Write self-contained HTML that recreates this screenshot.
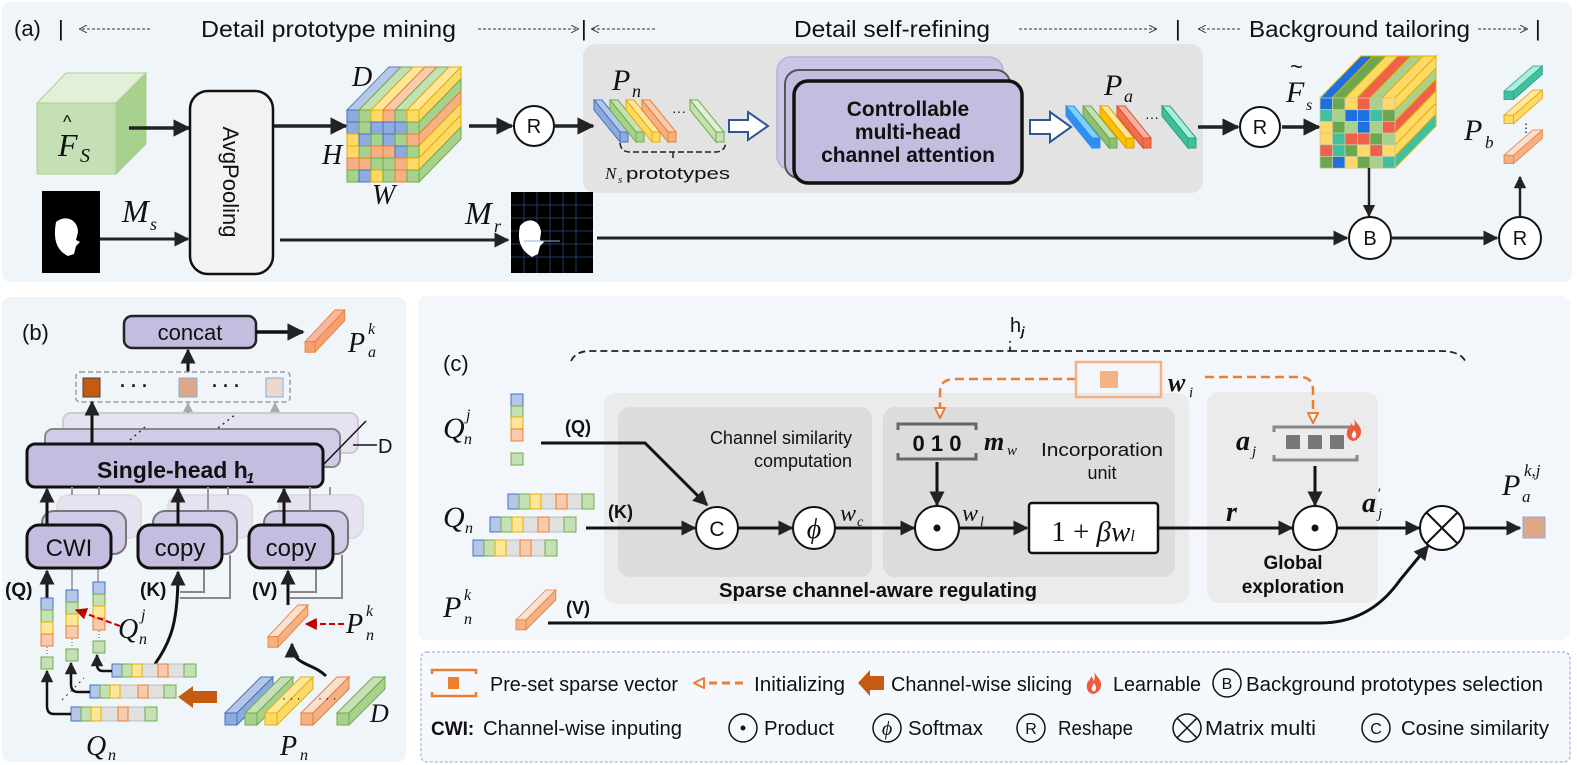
<!DOCTYPE html>
<html><head><meta charset="utf-8"><style>
body{margin:0;background:#fff}
svg{display:block}
text{font-family:"Liberation Sans",sans-serif;fill:#111}
.m{font-family:"Liberation Serif",serif;font-style:italic}
.b{font-weight:bold}
</style></head><body>
<svg width="1577" height="765" viewBox="0 0 1577 765" xmlns="http://www.w3.org/2000/svg">
<defs>
<marker id="ah" viewBox="0 0 10 10" refX="9" refY="5" markerWidth="5" markerHeight="5" orient="auto"><path d="M0,0 L10,5 L0,10 z" fill="#222"/></marker>
<marker id="ahg" viewBox="0 0 10 10" refX="9" refY="5" markerWidth="5" markerHeight="5" orient="auto"><path d="M0,0 L10,5 L0,10 z" fill="#aaa"/></marker>
<marker id="ahr" viewBox="0 0 10 10" refX="9" refY="5" markerWidth="6" markerHeight="6" orient="auto"><path d="M0,0 L10,5 L0,10 z" fill="#c00000"/></marker>
<marker id="aho" viewBox="0 0 12 12" refX="11" refY="6" markerWidth="12" markerHeight="12" orient="auto" markerUnits="userSpaceOnUse"><path d="M1,1 L11,6 L1,11 z" fill="#fff" stroke="#ed7d31" stroke-width="2"/></marker>
<marker id="ahd" viewBox="0 0 10 10" refX="9" refY="5" markerWidth="8" markerHeight="8" orient="auto" markerUnits="userSpaceOnUse"><path d="M0,0 L10,5 L0,10" fill="none" stroke="#333" stroke-width="1.2"/></marker>
<g id="bd" style="stroke:var(--s);stroke-width:1">
<polygon points="0,0 8,0 34,32 26,32" style="fill:var(--l)"/>
<polygon points="0,0 26,32 26,42 0,10" style="fill:var(--f)"/>
<rect x="26" y="32" width="8" height="10" style="fill:var(--f)"/>
</g>
<g id="bu" style="stroke:var(--s);stroke-width:1">
<polygon points="0,36 12,36 48,0 36,0" style="fill:var(--l)"/>
<polygon points="12,36 12,48 48,12 48,0" style="fill:var(--f)"/>
<rect x="0" y="36" width="12" height="12" style="fill:var(--f)"/>
</g>
<g id="flame"><path d="M8,0 C10,6 16,8 15,15 C14,21 9,23 7,23 C2,22 0,18 1,13 C2,9 5,9 5,5 C7,7 7,9 8,10 C9,7 9,4 8,0z" fill="#f05a3c"/><path d="M8,12 C10,15 11,17 9,20 C7,21 5,19 6,16z" fill="#fff"/></g>
</defs>

<!-- ===== Panel (a) ===== -->
<rect x="2" y="2" width="1570" height="280" rx="8" fill="#f0f5fa"/>
<text x="14" y="36" font-size="22">(a)</text>
<text x="58" y="36" font-size="22">|</text>
<line x1="150" y1="29" x2="80" y2="29" stroke="#333" stroke-dasharray="3,2" marker-end="url(#ahd)"/>
<text x="201" y="37" font-size="23" textLength="255" lengthAdjust="spacingAndGlyphs">Detail prototype mining</text>
<line x1="478" y1="29" x2="578" y2="29" stroke="#333" stroke-dasharray="3,2" marker-end="url(#ahd)"/>
<text x="581" y="36" font-size="22">|</text>
<line x1="655" y1="29" x2="592" y2="29" stroke="#333" stroke-dasharray="3,2" marker-end="url(#ahd)"/>
<text x="794" y="37" font-size="23" textLength="196" lengthAdjust="spacingAndGlyphs">Detail self-refining</text>
<line x1="1019" y1="29" x2="1156" y2="29" stroke="#333" stroke-dasharray="3,2" marker-end="url(#ahd)"/>
<text x="1175" y="36" font-size="22">|</text>
<line x1="1240" y1="29" x2="1199" y2="29" stroke="#333" stroke-dasharray="3,2" marker-end="url(#ahd)"/>
<text x="1249" y="37" font-size="23" textLength="221" lengthAdjust="spacingAndGlyphs">Background tailoring</text>
<line x1="1478" y1="29" x2="1527" y2="29" stroke="#333" stroke-dasharray="3,2" marker-end="url(#ahd)"/>
<text x="1535" y="36" font-size="22">|</text>

<rect x="583" y="44" width="620" height="149" rx="12" fill="#e3e3e3"/>

<polygon points="37,103 66,73 146,73 116,103" fill="#e2f0d9" stroke="#a9d18e"/>
<polygon points="116,103 146,73 146,144 116,174" fill="#a9d18e" stroke="#a9d18e"/>
<rect x="37" y="103" width="79" height="71" fill="#c5e0b4" stroke="#a9d18e"/>
<text x="58" y="156" class="m" font-size="32">F</text>
<text x="63" y="128" font-size="18">^</text>
<text x="80" y="162" class="m" font-size="20">S</text>
<line x1="129" y1="128" x2="189" y2="128" stroke="#222" stroke-width="3.5" marker-end="url(#ah)"/>

<rect x="42" y="191" width="58" height="82" fill="#000"/>
<path d="M56,222 C66,214 78,220 78,232 L76,240 L80,242 L76,246 L74,254 L68,256 C60,252 52,244 56,222z" fill="#fff"/>
<text x="122" y="222" class="m" font-size="32">M</text>
<text x="150" y="230" class="m" font-size="18">s</text>
<line x1="100" y1="239" x2="188" y2="239" stroke="#222" stroke-width="3" marker-end="url(#ah)"/>

<rect x="190" y="91" width="83" height="183" rx="18" fill="#f2f2f2" stroke="#111" stroke-width="2.5"/>
<text transform="translate(223,182) rotate(90)" text-anchor="middle" font-size="22">AvgPooling</text>
<line x1="274" y1="126" x2="346" y2="126" stroke="#222" stroke-width="3.5" marker-end="url(#ah)"/>
<line x1="280" y1="240" x2="508" y2="240" stroke="#222" stroke-width="3" marker-end="url(#ah)"/>

<g stroke-width="1">
<polygon points="347,110 389,67 401,67 359,110" fill="#b4c7e7" stroke="#5b7fc0"/>
<polygon points="359,110 401,67 413,67 371,110" fill="#c5e0b4" stroke="#70ad47"/>
<polygon points="371,110 413,67 425,67 383,110" fill="#ffe699" stroke="#e0b000"/>
<polygon points="383,110 425,67 437,67 395,110" fill="#f8cbad" stroke="#ed7d31"/>
<polygon points="395,110 437,67 449,67 407,110" fill="#c5e0b4" stroke="#70ad47"/>
<polygon points="407,110 449,67 461,67 419,110" fill="#ffe699" stroke="#e0b000"/>
<polygon points="419,110 461,67 461,79 419,122" fill="#ffd966" stroke="#e0b000"/>
<polygon points="419,122 461,79 461,91 419,134" fill="#a9d18e" stroke="#70ad47"/>
<polygon points="419,134 461,91 461,103 419,146" fill="#f4b183" stroke="#ed7d31"/>
<polygon points="419,146 461,103 461,115 419,158" fill="#ffd966" stroke="#e0b000"/>
<polygon points="419,158 461,115 461,127 419,170" fill="#ffd966" stroke="#e0b000"/>
<polygon points="419,170 461,127 461,139 419,182" fill="#a9d18e" stroke="#70ad47"/>
</g>
<g stroke-width="1">
<rect x="347" y="110" width="12" height="12" fill="#8faadc" stroke="#4472c4"/><rect x="359" y="110" width="12" height="12" fill="#a9d18e" stroke="#70ad47"/><rect x="371" y="110" width="12" height="12" fill="#ffd966" stroke="#e0b000"/><rect x="383" y="110" width="12" height="12" fill="#f4b183" stroke="#ed7d31"/><rect x="395" y="110" width="12" height="12" fill="#a9d18e" stroke="#70ad47"/><rect x="407" y="110" width="12" height="12" fill="#ffd966" stroke="#e0b000"/>
<rect x="347" y="122" width="12" height="12" fill="#8faadc" stroke="#4472c4"/><rect x="359" y="122" width="12" height="12" fill="#a9d18e" stroke="#70ad47"/><rect x="371" y="122" width="12" height="12" fill="#8faadc" stroke="#4472c4"/><rect x="383" y="122" width="12" height="12" fill="#8faadc" stroke="#4472c4"/><rect x="395" y="122" width="12" height="12" fill="#8faadc" stroke="#4472c4"/><rect x="407" y="122" width="12" height="12" fill="#a9d18e" stroke="#70ad47"/>
<rect x="347" y="134" width="12" height="12" fill="#ffd966" stroke="#e0b000"/><rect x="359" y="134" width="12" height="12" fill="#8faadc" stroke="#4472c4"/><rect x="371" y="134" width="12" height="12" fill="#a9d18e" stroke="#70ad47"/><rect x="383" y="134" width="12" height="12" fill="#8faadc" stroke="#4472c4"/><rect x="395" y="134" width="12" height="12" fill="#a9d18e" stroke="#70ad47"/><rect x="407" y="134" width="12" height="12" fill="#f4b183" stroke="#ed7d31"/>
<rect x="347" y="146" width="12" height="12" fill="#ffd966" stroke="#e0b000"/><rect x="359" y="146" width="12" height="12" fill="#a9d18e" stroke="#70ad47"/><rect x="371" y="146" width="12" height="12" fill="#f4b183" stroke="#ed7d31"/><rect x="383" y="146" width="12" height="12" fill="#f4b183" stroke="#ed7d31"/><rect x="395" y="146" width="12" height="12" fill="#8faadc" stroke="#4472c4"/><rect x="407" y="146" width="12" height="12" fill="#a9d18e" stroke="#70ad47"/>
<rect x="347" y="158" width="12" height="12" fill="#f4b183" stroke="#ed7d31"/><rect x="359" y="158" width="12" height="12" fill="#f4b183" stroke="#ed7d31"/><rect x="371" y="158" width="12" height="12" fill="#a9d18e" stroke="#70ad47"/><rect x="383" y="158" width="12" height="12" fill="#a9d18e" stroke="#70ad47"/><rect x="395" y="158" width="12" height="12" fill="#f4b183" stroke="#ed7d31"/><rect x="407" y="158" width="12" height="12" fill="#ffd966" stroke="#e0b000"/>
<rect x="347" y="170" width="12" height="12" fill="#a9d18e" stroke="#70ad47"/><rect x="359" y="170" width="12" height="12" fill="#8faadc" stroke="#4472c4"/><rect x="371" y="170" width="12" height="12" fill="#ffd966" stroke="#e0b000"/><rect x="383" y="170" width="12" height="12" fill="#a9d18e" stroke="#70ad47"/><rect x="395" y="170" width="12" height="12" fill="#f4b183" stroke="#ed7d31"/><rect x="407" y="170" width="12" height="12" fill="#a9d18e" stroke="#70ad47"/>
</g>
<text x="352" y="86" class="m" font-size="28">D</text>
<text x="322" y="164" class="m" font-size="28">H</text>
<text x="372" y="204" class="m" font-size="28">W</text>

<line x1="469" y1="126" x2="512" y2="126" stroke="#222" stroke-width="3.5" marker-end="url(#ah)"/>
<circle cx="534" cy="126" r="20" fill="#fff" stroke="#111" stroke-width="2"/>
<text x="534" y="133" text-anchor="middle" font-size="20">R</text>
<line x1="554" y1="126" x2="593" y2="126" stroke="#222" stroke-width="3.5" marker-end="url(#ah)"/>

<text x="612" y="90" class="m" font-size="30">P</text><text x="632" y="97" class="m" font-size="18">n</text>
<use href="#bd" x="594" y="100" style="--f:#8faadc;--l:#b4c7e7;--s:#4472c4"/>
<use href="#bd" x="610" y="100" style="--f:#a9d18e;--l:#c5e0b4;--s:#70ad47"/>
<use href="#bd" x="626" y="100" style="--f:#ffd966;--l:#ffe699;--s:#e0b000"/>
<use href="#bd" x="642" y="100" style="--f:#f4b183;--l:#f8cbad;--s:#ed7d31"/>
<text x="672" y="116" font-size="14">···</text>
<use href="#bd" x="690" y="100" style="--f:#c5e0b4;--l:#e2f0d9;--s:#70ad47"/>
<path d="M620,143 Q621,152 630,152 L716,152 Q724,152 726,143 M673,152 V158" fill="none" stroke="#222" stroke-width="1.5" stroke-dasharray="6,3"/>
<text x="605" y="179" class="m" font-size="17">N</text><text x="618" y="183" class="m" font-size="11">s</text>
<text x="626" y="179" font-size="17" textLength="104" lengthAdjust="spacingAndGlyphs">prototypes</text>

<polygon points="729,120 748,120 748,112 768,126 748,140 748,132 729,132" fill="#fff" stroke="#2f5597" stroke-width="2"/>

<rect x="777" y="57" width="226" height="113" rx="14" fill="#cdc5e6" stroke="#b8add8" stroke-width="1.5"/>
<rect x="785" y="70" width="225" height="108" rx="14" fill="#c5bde0" stroke="#555" stroke-width="2"/>
<rect x="794" y="81" width="228" height="102" rx="14" fill="#c5bde0" stroke="#111" stroke-width="3.5"/>
<text x="908" y="116" text-anchor="middle" font-size="21" class="b">Controllable</text>
<text x="908" y="139" text-anchor="middle" font-size="21" class="b">multi-head</text>
<text x="908" y="162" text-anchor="middle" font-size="21" class="b">channel attention</text>

<polygon points="1030,120 1050,120 1050,112 1071,127 1050,142 1050,134 1030,134" fill="#fff" stroke="#2f5597" stroke-width="2"/>

<text x="1104" y="95" class="m" font-size="30">P</text><text x="1124" y="102" class="m" font-size="18">a</text>
<use href="#bd" x="1066" y="106" style="--f:#2e8ff0;--l:#7fd0f8;--s:#2e8ff0"/>
<use href="#bd" x="1083" y="106" style="--f:#8fbf70;--l:#c5e0b4;--s:#6aa84f"/>
<use href="#bd" x="1100" y="106" style="--f:#ffc000;--l:#ffe699;--s:#e0a000"/>
<use href="#bd" x="1117" y="106" style="--f:#f0704d;--l:#f8b0a0;--s:#e05030"/>
<text x="1145" y="122" font-size="14">···</text>
<use href="#bd" x="1162" y="106" style="--f:#3fbf9a;--l:#a8f0dc;--s:#2aa080"/>

<line x1="1198" y1="127" x2="1238" y2="127" stroke="#222" stroke-width="3.5" marker-end="url(#ah)"/>
<circle cx="1260" cy="127" r="20" fill="#fff" stroke="#111" stroke-width="2"/>
<text x="1260" y="134" text-anchor="middle" font-size="20">R</text>
<line x1="1282" y1="127" x2="1319" y2="127" stroke="#222" stroke-width="3.5" marker-end="url(#ah)"/>

<text x="1286" y="102" class="m" font-size="30">F</text><text x="1290" y="74" font-size="22">~</text><text x="1306" y="110" class="m" font-size="16">s</text>
<g stroke-width="1">
<polygon points="1320,98 1361,56 1373,56 1332,98" fill="#1e6fe0" stroke="#e0b000"/>
<polygon points="1332,98 1373,56 1386,56 1345,98" fill="#6aa84f" stroke="#e0b000"/>
<polygon points="1345,98 1386,56 1398,56 1357,98" fill="#ffd966" stroke="#e0b000"/>
<polygon points="1357,98 1398,56 1411,56 1370,98" fill="#f0604d" stroke="#e0b000"/>
<polygon points="1370,98 1411,56 1423,56 1382,98" fill="#a9d18e" stroke="#e0b000"/>
<polygon points="1382,98 1423,56 1436,56 1395,98" fill="#ffd966" stroke="#e0b000"/>
<polygon points="1395,98 1436,56 1436,68 1395,110" fill="#ffd966" stroke="#e0b000"/>
<polygon points="1395,110 1436,68 1436,79 1395,121" fill="#a9d18e" stroke="#e0b000"/>
<polygon points="1395,121 1436,79 1436,91 1395,133" fill="#f0604d" stroke="#e0b000"/>
<polygon points="1395,133 1436,91 1436,103 1395,145" fill="#ffd966" stroke="#e0b000"/>
<polygon points="1395,145 1436,103 1436,114 1395,156" fill="#ffd966" stroke="#e0b000"/>
<polygon points="1395,156 1436,114 1436,126 1395,168" fill="#40c0a0" stroke="#e0b000"/>
</g>
<g stroke="#c8c8a0" stroke-width="0.8">
<rect x="1320" y="98" width="12.5" height="11.7" fill="#1e6fe0"/><rect x="1332.5" y="98" width="12.5" height="11.7" fill="#6aa84f"/><rect x="1345" y="98" width="12.5" height="11.7" fill="#ffd966"/><rect x="1357.5" y="98" width="12.5" height="11.7" fill="#f0604d"/><rect x="1370" y="98" width="12.5" height="11.7" fill="#a9d18e"/><rect x="1382.5" y="98" width="12.5" height="11.7" fill="#ffd966"/>
<rect x="1320" y="109.7" width="12.5" height="11.7" fill="#40c0a0"/><rect x="1332.5" y="109.7" width="12.5" height="11.7" fill="#a9d18e"/><rect x="1345" y="109.7" width="12.5" height="11.7" fill="#1e6fe0"/><rect x="1357.5" y="109.7" width="12.5" height="11.7" fill="#1e6fe0"/><rect x="1370" y="109.7" width="12.5" height="11.7" fill="#40c0a0"/><rect x="1382.5" y="109.7" width="12.5" height="11.7" fill="#6aa84f"/>
<rect x="1320" y="121.4" width="12.5" height="11.7" fill="#ffd966"/><rect x="1332.5" y="121.4" width="12.5" height="11.7" fill="#6aa84f"/><rect x="1345" y="121.4" width="12.5" height="11.7" fill="#a9d18e"/><rect x="1357.5" y="121.4" width="12.5" height="11.7" fill="#1e6fe0"/><rect x="1370" y="121.4" width="12.5" height="11.7" fill="#a9d18e"/><rect x="1382.5" y="121.4" width="12.5" height="11.7" fill="#f0604d"/>
<rect x="1320" y="133.1" width="12.5" height="11.7" fill="#ffd966"/><rect x="1332.5" y="133.1" width="12.5" height="11.7" fill="#40c0a0"/><rect x="1345" y="133.1" width="12.5" height="11.7" fill="#f0604d"/><rect x="1357.5" y="133.1" width="12.5" height="11.7" fill="#f0604d"/><rect x="1370" y="133.1" width="12.5" height="11.7" fill="#6aa84f"/><rect x="1382.5" y="133.1" width="12.5" height="11.7" fill="#a9d18e"/>
<rect x="1320" y="144.8" width="12.5" height="11.7" fill="#f0604d"/><rect x="1332.5" y="144.8" width="12.5" height="11.7" fill="#40c0a0"/><rect x="1345" y="144.8" width="12.5" height="11.7" fill="#6aa84f"/><rect x="1357.5" y="144.8" width="12.5" height="11.7" fill="#ffd966"/><rect x="1370" y="144.8" width="12.5" height="11.7" fill="#f0604d"/><rect x="1382.5" y="144.8" width="12.5" height="11.7" fill="#ffd966"/>
<rect x="1320" y="156.5" width="12.5" height="11.7" fill="#6aa84f"/><rect x="1332.5" y="156.5" width="12.5" height="11.7" fill="#1e6fe0"/><rect x="1345" y="156.5" width="12.5" height="11.7" fill="#ffd966"/><rect x="1357.5" y="156.5" width="12.5" height="11.7" fill="#6aa84f"/><rect x="1370" y="156.5" width="12.5" height="11.7" fill="#a9d18e"/><rect x="1382.5" y="156.5" width="12.5" height="11.7" fill="#40c0a0"/>
</g>

<line x1="1369" y1="168" x2="1369" y2="216" stroke="#222" stroke-width="2.5" marker-end="url(#ah)"/>
<rect x="511" y="192" width="82" height="81" fill="#000"/>
<g stroke="#1f3864" stroke-width="1"><path d="M511,205H593M511,218H593M511,231H593M511,244H593M511,257H593M524,192V273M537,192V273M550,192V273M563,192V273M576,192V273"/></g>
<path d="M520,226 C528,216 540,220 541,232 L540,240 L544,242 L540,246 L538,254 L532,257 C524,252 516,244 520,226z" fill="#fff"/>
<path d="M524,241H560" stroke="#8faadc"/>
<text x="465" y="224" class="m" font-size="32">M</text>
<text x="494" y="232" class="m" font-size="18">r</text>
<line x1="597" y1="238" x2="1347" y2="238" stroke="#222" stroke-width="3" marker-end="url(#ah)"/>
<circle cx="1370" cy="238" r="21" fill="#fff" stroke="#111" stroke-width="2"/>
<text x="1370" y="245" text-anchor="middle" font-size="20">B</text>
<line x1="1391" y1="238" x2="1497" y2="238" stroke="#222" stroke-width="3" marker-end="url(#ah)"/>
<circle cx="1520" cy="238" r="21" fill="#fff" stroke="#111" stroke-width="2"/>
<text x="1520" y="245" text-anchor="middle" font-size="20">R</text>
<line x1="1520" y1="217" x2="1520" y2="177" stroke="#222" stroke-width="2.5" marker-end="url(#ah)"/>
<text x="1464" y="140" class="m" font-size="30">P</text><text x="1485" y="148" class="m" font-size="17">b</text>
<use href="#bu" transform="translate(1504,66) scale(0.8,0.7)" style="--f:#40c0a0;--l:#a8f0dc;--s:#2aa080"/>
<use href="#bu" transform="translate(1504,90) scale(0.8,0.7)" style="--f:#ffd966;--l:#ffe699;--s:#e0a000"/>
<text x="1520" y="132" font-size="12">⋮</text>
<use href="#bu" transform="translate(1504,130) scale(0.8,0.7)" style="--f:#f4b183;--l:#fbe0d0;--s:#ed7d31"/>

<!-- ===== Panel (b) ===== -->
<rect x="2" y="297" width="404" height="465" rx="8" fill="#f0f5fa"/>
<text x="22" y="340" font-size="22">(b)</text>
<rect x="124" y="316" width="132" height="32" rx="8" fill="#c5bde0" stroke="#222" stroke-width="2.5"/>
<text x="190" y="340" text-anchor="middle" font-size="22">concat</text>
<line x1="256" y1="332" x2="303" y2="332" stroke="#111" stroke-width="3.5" marker-end="url(#ah)"/>
<use href="#bu" transform="translate(305,310) scale(0.83,0.88)" style="--f:#f4a070;--l:#f8b8a0;--s:#ed7d31"/>
<text x="348" y="352" class="m" font-size="28">P</text><text x="368" y="334" class="m" font-size="16">k</text><text x="368" y="357" class="m" font-size="16">a</text>
<line x1="188" y1="372" x2="188" y2="350" stroke="#111" stroke-width="3" marker-end="url(#ah)"/>
<rect x="76" y="372" width="214" height="30" rx="4" fill="none" stroke="#999" stroke-width="1.5" stroke-dasharray="5,3"/>
<rect x="83" y="378" width="17" height="19" fill="#c55a11" stroke="#444"/>
<rect x="179" y="378" width="18" height="19" fill="#dda789" stroke="#8faadc"/>
<rect x="266" y="378" width="17" height="19" fill="#ecd8cc" stroke="#8faadc"/>
<text x="120" y="392" font-size="18" class="b">· · ·</text>
<text x="212" y="392" font-size="18" class="b">· · ·</text>
<rect x="63" y="413" width="295" height="40" rx="8" fill="#e6e2f2" stroke="#ccc" stroke-width="2"/>
<rect x="45" y="429" width="295" height="38" rx="8" fill="#d2cbe8" stroke="#888" stroke-width="2"/>
<line x1="188" y1="413" x2="188" y2="403" stroke="#999" stroke-width="2" marker-end="url(#ahg)"/>
<line x1="275" y1="413" x2="275" y2="403" stroke="#ccc" stroke-width="2" marker-end="url(#ahg)"/>
<path d="M130,440 L145,427 M218,428 L236,414" stroke="#333" stroke-width="1.5" stroke-dasharray="2,4"/>
<rect x="27" y="444" width="296" height="43" rx="8" fill="#c5bde0" stroke="#111" stroke-width="3"/>
<text x="97" y="478" font-size="23" class="b">Single-head h</text><text x="246" y="483" font-size="15" class="b" font-style="italic">1</text>
<line x1="92" y1="444" x2="92" y2="402" stroke="#111" stroke-width="3" marker-end="url(#ah)"/>
<path d="M323,465 L366,421 M353,445 L377,445" stroke="#111" stroke-width="1.5" fill="none"/>
<text x="378" y="453" font-size="20">D</text>

<g stroke-width="2">
<rect x="57" y="495" width="84" height="43" rx="12" fill="#e6e2f2" stroke="#ddd"/>
<rect x="42" y="511" width="84" height="43" rx="12" fill="#d2cbe8" stroke="#777"/>
<rect x="168" y="495" width="84" height="43" rx="12" fill="#e6e2f2" stroke="#ddd"/>
<rect x="153" y="511" width="84" height="43" rx="12" fill="#d2cbe8" stroke="#777"/>
<rect x="279" y="495" width="84" height="43" rx="12" fill="#e6e2f2" stroke="#ddd"/>
<rect x="264" y="511" width="84" height="43" rx="12" fill="#d2cbe8" stroke="#777"/>
</g>
<path d="M72,495V487 M99,495V487 M208,511V487 M228,495V487 M310,511V487 M330,495V487" stroke="#999" stroke-width="2"/>
<path d="M204,568 V592 H180 M230,555 V598 H180 M316,568 V592 H290 M342,555 V598 H290" stroke="#888" stroke-width="2" fill="none"/>
<path d="M72,568 V590 M98,555 V582" stroke="#aaa" stroke-width="2"/>
<rect x="27" y="525" width="84" height="43" rx="12" fill="#c5bde0" stroke="#111" stroke-width="3"/>
<rect x="138" y="525" width="84" height="43" rx="12" fill="#c5bde0" stroke="#111" stroke-width="3"/>
<rect x="249" y="525" width="84" height="43" rx="12" fill="#c5bde0" stroke="#111" stroke-width="3"/>
<text x="69" y="556" text-anchor="middle" font-size="24">CWI</text>
<text x="180" y="556" text-anchor="middle" font-size="24">copy</text>
<text x="291" y="556" text-anchor="middle" font-size="24">copy</text>
<line x1="47" y1="525" x2="47" y2="489" stroke="#111" stroke-width="3" marker-end="url(#ah)"/>
<line x1="178" y1="525" x2="178" y2="489" stroke="#111" stroke-width="3" marker-end="url(#ah)"/>
<line x1="284" y1="525" x2="284" y2="489" stroke="#111" stroke-width="3" marker-end="url(#ah)"/>
<text x="5" y="596" font-size="19" class="b">(Q)</text>
<text x="140" y="596" font-size="19" class="b">(K)</text>
<text x="252" y="596" font-size="19" class="b">(V)</text>
<line x1="47" y1="611" x2="47" y2="571" stroke="#111" stroke-width="3" marker-end="url(#ah)"/>
<path d="M155,664 C172,640 178,620 178,572" fill="none" stroke="#111" stroke-width="3" marker-end="url(#ah)"/>
<line x1="288" y1="605" x2="288" y2="571" stroke="#111" stroke-width="3" marker-end="url(#ah)"/>

<g stroke-width="1">
<rect x="41" y="598" width="12" height="12" fill="#b4c7e7" stroke="#4472c4"/><rect x="41" y="610" width="12" height="12" fill="#c5e0b4" stroke="#70ad47"/><rect x="41" y="622" width="12" height="12" fill="#ffe699" stroke="#e0b000"/><rect x="41" y="634" width="12" height="12" fill="#f8cbad" stroke="#ed7d31"/><rect x="41" y="657" width="12" height="12" fill="#c5e0b4" stroke="#70ad47"/>
<rect x="66" y="590" width="12" height="12" fill="#b4c7e7" stroke="#4472c4"/><rect x="66" y="602" width="12" height="12" fill="#c5e0b4" stroke="#70ad47"/><rect x="66" y="614" width="12" height="12" fill="#ffe699" stroke="#e0b000"/><rect x="66" y="626" width="12" height="12" fill="#f8cbad" stroke="#ed7d31"/><rect x="66" y="649" width="12" height="12" fill="#c5e0b4" stroke="#70ad47"/>
<rect x="93" y="582" width="12" height="12" fill="#b4c7e7" stroke="#4472c4"/><rect x="93" y="594" width="12" height="12" fill="#c5e0b4" stroke="#70ad47"/><rect x="93" y="606" width="12" height="12" fill="#ffe699" stroke="#e0b000"/><rect x="93" y="618" width="12" height="12" fill="#f8cbad" stroke="#ed7d31"/><rect x="93" y="641" width="12" height="12" fill="#c5e0b4" stroke="#70ad47"/>
</g>
<path d="M47,647V656 M72,639V648 M99,631V640" stroke="#555" stroke-dasharray="1,2"/>
<line x1="120" y1="626" x2="76" y2="610" stroke="#c00000" stroke-width="2" stroke-dasharray="6,3" marker-end="url(#ahr)"/>
<text x="118" y="638" class="m" font-size="28">Q</text><text x="141" y="620" class="m" font-size="16">j</text><text x="139" y="644" class="m" font-size="16">n</text>

<g stroke-width="1">
<rect x="112" y="664" width="84" height="13" fill="#e0e0e0" stroke="#bbb"/>
<rect x="112" y="664" width="10" height="13" fill="#b4c7e7" stroke="#4472c4"/><rect x="122" y="664" width="10" height="13" fill="#c5e0b4" stroke="#70ad47"/><rect x="132" y="664" width="10" height="13" fill="#ffe699" stroke="#e0b000"/><rect x="158" y="664" width="10" height="13" fill="#f8cbad" stroke="#ed7d31"/><rect x="184" y="664" width="12" height="13" fill="#c5e0b4" stroke="#70ad47"/>
<rect x="90" y="685" width="86" height="13" fill="#e0e0e0" stroke="#bbb"/>
<rect x="90" y="685" width="10" height="13" fill="#b4c7e7" stroke="#4472c4"/><rect x="100" y="685" width="10" height="13" fill="#c5e0b4" stroke="#70ad47"/><rect x="110" y="685" width="10" height="13" fill="#ffe699" stroke="#e0b000"/><rect x="138" y="685" width="10" height="13" fill="#f8cbad" stroke="#ed7d31"/><rect x="164" y="685" width="12" height="13" fill="#c5e0b4" stroke="#70ad47"/>
<rect x="71" y="707" width="86" height="14" fill="#e0e0e0" stroke="#bbb"/>
<rect x="71" y="707" width="10" height="14" fill="#b4c7e7" stroke="#4472c4"/><rect x="81" y="707" width="10" height="14" fill="#c5e0b4" stroke="#70ad47"/><rect x="91" y="707" width="10" height="14" fill="#ffe699" stroke="#e0b000"/><rect x="118" y="707" width="10" height="14" fill="#f8cbad" stroke="#ed7d31"/><rect x="145" y="707" width="12" height="14" fill="#c5e0b4" stroke="#70ad47"/>
</g>
<path d="M112,671 H103 Q97,671 97,664 V655" fill="none" stroke="#111" stroke-width="2.5" marker-end="url(#ah)"/>
<path d="M90,692 H78 Q71,692 71,684 V663" fill="none" stroke="#111" stroke-width="2.5" marker-end="url(#ah)"/>
<path d="M71,714 H54 Q47,714 47,706 V671" fill="none" stroke="#111" stroke-width="2.5" marker-end="url(#ah)"/>
<path d="M62,700 L84,678" stroke="#333" stroke-dasharray="2,4"/>
<polygon points="178,697 193,686 193,691 217,691 217,703 193,703 193,708" fill="#c55a11"/>
<text x="86" y="755" class="m" font-size="28">Q</text><text x="108" y="760" class="m" font-size="16">n</text>

<use href="#bu" x="225" y="677" style="--f:#8faadc;--l:#b4c7e7;--s:#4472c4"/>
<use href="#bu" x="245" y="677" style="--f:#a9d18e;--l:#c5e0b4;--s:#70ad47"/>
<use href="#bu" x="265" y="677" style="--f:#ffd966;--l:#ffe699;--s:#e0b000"/>
<text x="282" y="702" font-size="12">· · ·</text>
<use href="#bu" x="301" y="677" style="--f:#f4b183;--l:#fbe0d0;--s:#ed7d31"/>
<text x="318" y="702" font-size="12">· · ·</text>
<use href="#bu" x="337" y="677" style="--f:#a9d18e;--l:#c5e0b4;--s:#70ad47"/>
<text x="370" y="722" class="m" font-size="26">D</text>
<text x="280" y="755" class="m" font-size="28">P</text><text x="300" y="760" class="m" font-size="16">n</text>
<path d="M326,676 C312,662 292,666 292,644" fill="none" stroke="#111" stroke-width="3" marker-end="url(#ah)"/>
<use href="#bu" transform="translate(268,605) scale(0.83,0.88)" style="--f:#f4b183;--l:#fbe0d0;--s:#ed7d31"/>
<line x1="344" y1="624" x2="306" y2="624" stroke="#c00000" stroke-width="2" stroke-dasharray="6,3" marker-end="url(#ahr)"/>
<text x="346" y="633" class="m" font-size="28">P</text><text x="366" y="616" class="m" font-size="16">k</text><text x="366" y="640" class="m" font-size="16">n</text>

<!-- ===== Panel (c) ===== -->
<rect x="418" y="296" width="1152" height="344" rx="8" fill="#f3f7fb"/>
<text x="443" y="371" font-size="22">(c)</text>
<path d="M571,361 Q576,351 590,351 L1010,351 V341 M1010,351 L1440,351 Q1462,351 1466,363" fill="none" stroke="#222" stroke-width="1.8" stroke-dasharray="7,4"/>
<text x="1010" y="332" font-size="20">h</text><text x="1021" y="336" font-size="13" font-style="italic" class="b">j</text>

<rect x="604" y="393" width="585" height="211" rx="12" fill="#ebebeb"/>
<rect x="618" y="407" width="254" height="170" rx="12" fill="#dcdcdc"/>
<rect x="883" y="407" width="292" height="170" rx="12" fill="#dcdcdc"/>
<rect x="1207" y="392" width="171" height="211" rx="12" fill="#ebebeb"/>
<text x="852" y="444" text-anchor="end" font-size="18">Channel similarity</text>
<text x="852" y="467" text-anchor="end" font-size="18">computation</text>
<text x="719" y="597" font-size="20" class="b" textLength="318" lengthAdjust="spacingAndGlyphs">Sparse channel-aware regulating</text>
<text x="1041" y="456" font-size="18" textLength="122" lengthAdjust="spacingAndGlyphs">Incorporation</text>
<text x="1102" y="479" text-anchor="middle" font-size="18">unit</text>
<text x="1293" y="569" text-anchor="middle" font-size="19" class="b">Global</text>
<text x="1293" y="593" text-anchor="middle" font-size="19" class="b">exploration</text>

<path d="M1076,379 H955 Q940,379 940,392 V418" fill="none" stroke="#ed7d31" stroke-width="2.5" stroke-dasharray="9,5" marker-end="url(#aho)"/>
<rect x="1076" y="362" width="85" height="35" fill="none" stroke="#f4b183" stroke-width="2.5"/>
<rect x="1100" y="371" width="18" height="17" fill="#f4b183"/>
<text x="1168" y="391" class="m b" font-size="26">w</text><text x="1189" y="397" class="m" font-size="15">i</text>
<path d="M1205,377 H1300 Q1313,377 1313,390 V423" fill="none" stroke="#ed7d31" stroke-width="2.5" stroke-dasharray="9,5" marker-end="url(#aho)"/>

<text x="443" y="438" class="m" font-size="30">Q</text><text x="466" y="420" class="m" font-size="16">j</text><text x="464" y="444" class="m" font-size="16">n</text>
<g stroke-width="1">
<rect x="511" y="394" width="12" height="12" fill="#b4c7e7" stroke="#4472c4"/><rect x="511" y="406" width="12" height="11" fill="#c5e0b4" stroke="#70ad47"/><rect x="511" y="417" width="12" height="12" fill="#ffe699" stroke="#e0b000"/><rect x="511" y="429" width="12" height="12" fill="#f8cbad" stroke="#ed7d31"/><rect x="511" y="453" width="12" height="12" fill="#c5e0b4" stroke="#70ad47"/>
</g>
<text x="565" y="433" font-size="18" class="b">(Q)</text>
<path d="M541,443 H645 L707,505" fill="none" stroke="#111" stroke-width="3" marker-end="url(#ah)"/>
<text x="443" y="527" class="m" font-size="30">Q</text><text x="465" y="533" class="m" font-size="16">n</text>
<g stroke-width="1">
<rect x="508" y="494" width="86" height="15" fill="#e0e0e0" stroke="#bbb"/><rect x="508" y="494" width="11" height="15" fill="#b4c7e7" stroke="#4472c4"/><rect x="519" y="494" width="11" height="15" fill="#c5e0b4" stroke="#70ad47"/><rect x="530" y="494" width="11" height="15" fill="#ffe699" stroke="#e0b000"/><rect x="556" y="494" width="11" height="15" fill="#f8cbad" stroke="#ed7d31"/><rect x="582" y="494" width="12" height="15" fill="#c5e0b4" stroke="#70ad47"/>
<rect x="490" y="517" width="86" height="15" fill="#e0e0e0" stroke="#bbb"/><rect x="490" y="517" width="11" height="15" fill="#b4c7e7" stroke="#4472c4"/><rect x="501" y="517" width="11" height="15" fill="#c5e0b4" stroke="#70ad47"/><rect x="512" y="517" width="11" height="15" fill="#ffe699" stroke="#e0b000"/><rect x="538" y="517" width="11" height="15" fill="#f8cbad" stroke="#ed7d31"/><rect x="564" y="517" width="12" height="15" fill="#c5e0b4" stroke="#70ad47"/>
<rect x="473" y="540" width="84" height="16" fill="#e0e0e0" stroke="#bbb"/><rect x="473" y="540" width="11" height="16" fill="#b4c7e7" stroke="#4472c4"/><rect x="484" y="540" width="11" height="16" fill="#c5e0b4" stroke="#70ad47"/><rect x="495" y="540" width="11" height="16" fill="#ffe699" stroke="#e0b000"/><rect x="520" y="540" width="11" height="16" fill="#f8cbad" stroke="#ed7d31"/><rect x="545" y="540" width="12" height="16" fill="#c5e0b4" stroke="#70ad47"/>
</g>
<text x="608" y="518" font-size="18" class="b">(K)</text>
<line x1="586" y1="528" x2="695" y2="528" stroke="#111" stroke-width="3" marker-end="url(#ah)"/>
<circle cx="717" cy="528" r="21" fill="#fff" stroke="#111" stroke-width="2"/>
<text x="717" y="536" text-anchor="middle" font-size="21">C</text>
<line x1="738" y1="528" x2="792" y2="528" stroke="#111" stroke-width="3" marker-end="url(#ah)"/>
<circle cx="814" cy="528" r="21" fill="#fff" stroke="#111" stroke-width="2"/>
<text x="814" y="538" text-anchor="middle" class="m" font-size="28">ϕ</text>
<text x="840" y="521" class="m" font-size="24">w</text><text x="857" y="526" class="m" font-size="14">c</text>
<line x1="835" y1="528" x2="914" y2="528" stroke="#111" stroke-width="3" marker-end="url(#ah)"/>
<circle cx="937" cy="528" r="22" fill="#fff" stroke="#111" stroke-width="2"/>
<circle cx="937" cy="528" r="3.5" fill="#111"/>
<path d="M898,430 V424 H976 V430 M898,453 V459 H976 V453" fill="none" stroke="#666" stroke-width="3"/>
<text x="937" y="451" text-anchor="middle" font-size="22" class="b">0 1 0</text>
<text x="984" y="450" class="m b" font-size="26">m</text><text x="1007" y="455" class="m" font-size="15">w</text>
<line x1="937" y1="462" x2="937" y2="505" stroke="#111" stroke-width="3" marker-end="url(#ah)"/>
<text x="962" y="521" class="m" font-size="24">w</text><text x="980" y="526" class="m" font-size="14">l</text>
<line x1="959" y1="528" x2="1027" y2="528" stroke="#111" stroke-width="3" marker-end="url(#ah)"/>
<rect x="1029" y="503" width="129" height="50" rx="3" fill="#fff" stroke="#111" stroke-width="2.5"/>
<text x="1093" y="541" text-anchor="middle" style="font-family:'Liberation Serif',serif;font-size:29px"><tspan>1 + </tspan><tspan style="font-style:italic">βw</tspan><tspan style="font-style:italic;font-size:16px">l</tspan></text>
<line x1="1158" y1="528" x2="1292" y2="528" stroke="#111" stroke-width="3" marker-end="url(#ah)"/>
<text x="1226" y="521" class="m b" font-size="28">r</text>
<circle cx="1315" cy="528" r="22" fill="#fff" stroke="#111" stroke-width="2"/>
<circle cx="1315" cy="528" r="3.5" fill="#111"/>
<text x="1236" y="450" class="m b" font-size="28">a</text><text x="1252" y="456" class="m" font-size="15">j</text>
<path d="M1274,432 V427 H1357 V432 M1274,455 V460 H1357 V455" fill="none" stroke="#888" stroke-width="3"/>
<rect x="1286" y="435" width="14" height="14" fill="#777"/><rect x="1308" y="435" width="14" height="14" fill="#777"/><rect x="1330" y="435" width="14" height="14" fill="#777"/>
<use href="#flame" x="1346" y="418"/>
<line x1="1315" y1="466" x2="1315" y2="505" stroke="#111" stroke-width="3" marker-end="url(#ah)"/>
<text x="1362" y="512" class="m b" font-size="28">a</text><text x="1378" y="498" font-size="14">′</text><text x="1378" y="518" class="m" font-size="15">j</text>
<line x1="1337" y1="528" x2="1419" y2="528" stroke="#111" stroke-width="3" marker-end="url(#ah)"/>
<circle cx="1442" cy="528" r="22" fill="#fff" stroke="#111" stroke-width="2"/>
<path d="M1426.5,512.5 L1457.5,543.5 M1457.5,512.5 L1426.5,543.5" stroke="#111" stroke-width="2"/>
<line x1="1464" y1="528" x2="1520" y2="528" stroke="#111" stroke-width="3" marker-end="url(#ah)"/>
<rect x="1523" y="517" width="22" height="21" fill="#dda789" stroke="#8faadc"/>
<text x="1502" y="495" class="m" font-size="30">P</text><text x="1524" y="476" class="m" font-size="17">k,j</text><text x="1522" y="502" class="m" font-size="17">a</text>
<text x="443" y="617" class="m" font-size="30">P</text><text x="464" y="600" class="m" font-size="16">k</text><text x="464" y="624" class="m" font-size="16">n</text>
<use href="#bu" transform="translate(516,590) scale(0.83,0.83)" style="--f:#f4b183;--l:#fbe0d0;--s:#ed7d31"/>
<text x="566" y="614" font-size="18" class="b">(V)</text>
<path d="M548,623 H1320 Q1370,623 1400,580 L1428,546" fill="none" stroke="#111" stroke-width="3" marker-end="url(#ah)"/>

<!-- ===== Legend ===== -->
<rect x="421" y="652" width="1149" height="110" rx="6" fill="#f5f8fc" stroke="#8aa4d6" stroke-width="1" stroke-dasharray="3,2"/>
<path d="M432,674 V670 H476 V674 M432,692 V696 H476 V692" fill="none" stroke="#ed7d31" stroke-width="2.5"/>
<rect x="448" y="677" width="11" height="12" fill="#ed7d31"/>
<text x="490" y="691" font-size="20" textLength="188" lengthAdjust="spacingAndGlyphs">Pre-set sparse vector</text>
<line x1="743" y1="683" x2="694" y2="683" stroke="#ed7d31" stroke-width="3" stroke-dasharray="8,5" marker-end="url(#aho)"/>
<text x="754" y="691" font-size="20" textLength="91" lengthAdjust="spacingAndGlyphs">Initializing</text>
<polygon points="858,683 870,670 870,676 884,676 884,690 870,690 870,696" fill="#c55a11"/>
<text x="891" y="691" font-size="20" textLength="181" lengthAdjust="spacingAndGlyphs">Channel-wise slicing</text>
<use href="#flame" x="1086" y="671"/>
<text x="1113" y="691" font-size="20" textLength="88" lengthAdjust="spacingAndGlyphs">Learnable</text>
<circle cx="1227" cy="683" r="14" fill="none" stroke="#111" stroke-width="1.5"/>
<text x="1227" y="689" text-anchor="middle" font-size="16">B</text>
<text x="1246" y="691" font-size="20" textLength="297" lengthAdjust="spacingAndGlyphs">Background prototypes selection</text>
<text x="431" y="735" font-size="19" class="b">CWI:</text>
<text x="483" y="735" font-size="20" textLength="199" lengthAdjust="spacingAndGlyphs">Channel-wise inputing</text>
<circle cx="743" cy="728" r="14" fill="none" stroke="#111" stroke-width="1.5"/><circle cx="743" cy="728" r="2.5" fill="#111"/>
<text x="764" y="735" font-size="20" textLength="70" lengthAdjust="spacingAndGlyphs">Product</text>
<circle cx="887" cy="728" r="14" fill="none" stroke="#111" stroke-width="1.5"/>
<text x="887" y="735" text-anchor="middle" class="m" font-size="20">ϕ</text>
<text x="908" y="735" font-size="20" textLength="75" lengthAdjust="spacingAndGlyphs">Softmax</text>
<circle cx="1031" cy="728" r="14" fill="none" stroke="#111" stroke-width="1.5"/>
<text x="1031" y="734" text-anchor="middle" font-size="16">R</text>
<text x="1058" y="735" font-size="20" textLength="75" lengthAdjust="spacingAndGlyphs">Reshape</text>
<circle cx="1187" cy="728" r="14" fill="none" stroke="#111" stroke-width="1.5"/>
<path d="M1177,718 L1197,738 M1197,718 L1177,738" stroke="#111" stroke-width="1.5"/>
<text x="1205" y="735" font-size="20" textLength="111" lengthAdjust="spacingAndGlyphs">Matrix multi</text>
<circle cx="1376" cy="728" r="14" fill="none" stroke="#111" stroke-width="1.5"/>
<text x="1376" y="734" text-anchor="middle" font-size="16">C</text>
<text x="1401" y="735" font-size="20" textLength="148" lengthAdjust="spacingAndGlyphs">Cosine similarity</text>
</svg>
</body></html>
